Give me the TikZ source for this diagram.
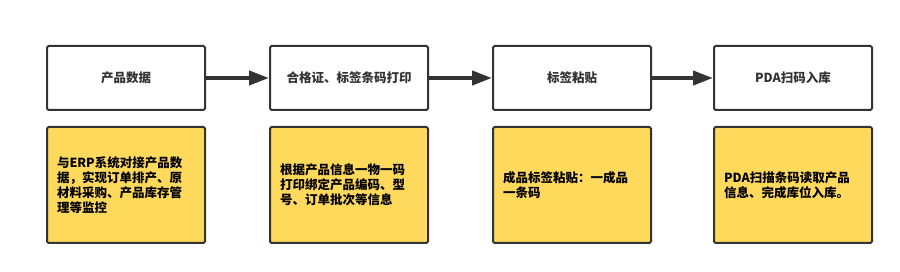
\documentclass[tikz,border=0pt]{standalone}
\usepackage{fontspec}
\setmainfont{Noto Sans CJK SC}
\usetikzlibrary{arrows.meta,positioning}
\definecolor{boxline}{HTML}{333333}
\definecolor{noteyellow}{HTML}{FFD95C}
\tikzset{
  stepbox/.style={draw=boxline,line width=2pt,rounded corners=1.5pt,fill=white,minimum width=158pt,minimum height=64pt,text=boxline,font=\fontsize{12.5}{15}\selectfont\bfseries},
  notebox/.style={draw=boxline,line width=2pt,rounded corners=1.5pt,fill=noteyellow,minimum width=158pt,minimum height=116pt,text width=138pt,inner xsep=10pt,align=left,font=\fontsize{12.5}{15}\selectfont\bfseries},
  flowarrow/.style={draw=boxline,line width=4pt,-{Triangle[length=20pt,width=14pt]}}
}
\begin{document}
\begin{tikzpicture}[x=1pt,y=-1pt]
\useasboundingbox (0,0) rectangle (900,272);
\node[stepbox] (data) at (126,78) {产品数据};
\node[stepbox,right=63pt of data] (print) {合格证、标签条码打印};
\node[stepbox,right=63pt of print] (label) {标签粘贴};
\node[stepbox,right=61pt of label] (scan) {PDA扫码入库};
\foreach \a/\b in {data/print,print/label,label/scan}{\draw[flowarrow] (\a.east)--(\b.west);}
\node[notebox,below=15pt of data] (datanote) {与ERP系统对接产品数\\据，实现订单排产、原\\材料采购、产品库存管\\理等监控};
\node[notebox,below=15pt of print] (printnote) {根据产品信息一物一码\\打印绑定产品编码、型\\号、订单批次等信息};
\node[notebox,below=15pt of label] (labelnote) {成品标签粘贴：一成品\\一条码};
\node[notebox,below=15pt of scan] (scannote) {PDA扫描条码读取产品\\信息、完成库位入库。};
\end{tikzpicture}
\end{document}
